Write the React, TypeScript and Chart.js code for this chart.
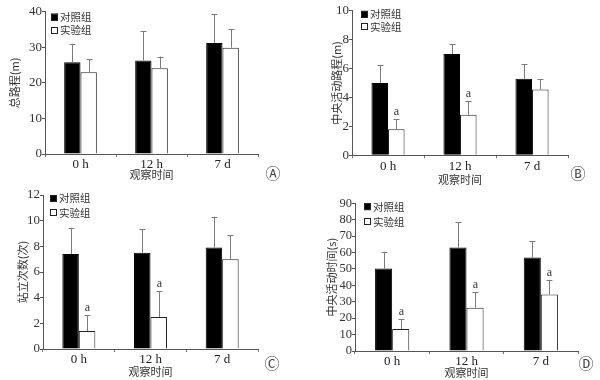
import React, { useEffect, useRef } from "react";
import { Chart, registerables } from "chart.js";
Chart.register(...registerables);

const categories = ["0 h", "12 h", "7 d"];
const seriesNames = ["对照组", "实验组"];
const xTitle = "观察时间";

// Panel A: 总路程(m)
const aControl = [25.8, 26.3, 31.2];
const aControlSD = [5.0, 8.2, 8.1];
const aExp = [23.0, 24.1, 29.9];
const aExpSD = [3.7, 3.3, 5.2];
const aSig = [false, false, false];

// Panel B: 中央活动路程(m)
const bControl = [5.0, 7.0, 5.3];
const bControlSD = [1.25, 0.7, 1.0];
const bExp = [1.8, 2.8, 4.55];
const bExpSD = [0.7, 0.95, 0.7];
const bSig = [true, true, false];

// Panel C: 站立次数(次)
const cControl = [7.4, 7.5, 7.9];
const cControlSD = [2.0, 1.85, 2.4];
const cExp = [1.4, 2.5, 7.0];
const cExpSD = [1.25, 2.0, 1.85];
const cSig = [true, true, false];

// Panel D: 中央活动时间(s)
const dControl = [50.2, 63.0, 56.9];
const dControlSD = [9.9, 15.4, 9.9];
const dExp = [13.4, 26.4, 34.5];
const dExpSD = [5.9, 9.4, 8.8];
const dSig = [true, true, true];

const SERIF = '"Liberation Serif", "DejaVu Serif", serif';
const CJK = '"Noto Sans CJK SC", "Noto Sans", sans-serif';

type Layout = {
  left: number; right: number; top: number; bottom: number;
  yTitleX: number; xTitleY: number;
  legendX: number; legendY1: number; legendY2: number;
  tagX: number; tagY: number; tickSize: number;
};

type PanelDef = {
  yTitle: string; yMax: number; yStep: number; tag: string;
  control: number[]; controlSD: number[]; exp: number[]; expSD: number[]; sig: boolean[];
  layout: Layout; pos: [number, number];
};

const panels: PanelDef[] = [
  {
    yTitle: "总路程(m)", yMax: 40, yStep: 10, tag: "Ⓐ",
    control: aControl, controlSD: aControlSD, exp: aExp, expSD: aExpSD, sig: aSig,
    layout: { left: 45, right: 258, top: 11.7, bottom: 154, yTitleX: 15, xTitleY: 175, legendX: 51, legendY1: 17, legendY2: 30.5, tagX: 273, tagY: 173, tickSize: 13 },
    pos: [0, 0],
  },
  {
    yTitle: "中央活动路程(m)", yMax: 10, yStep: 2, tag: "Ⓑ",
    control: bControl, controlSD: bControlSD, exp: bExp, expSD: bExpSD, sig: bSig,
    layout: { left: 52, right: 268, top: 10.7, bottom: 155.3, yTitleX: 37, xTitleY: 180, legendX: 61, legendY1: 14.3, legendY2: 26.7, tagX: 278, tagY: 173, tickSize: 13 },
    pos: [300, 0],
  },
  {
    yTitle: "站立次数(次)", yMax: 12, yStep: 2, tag: "Ⓒ",
    control: cControl, controlSD: cControlSD, exp: cExp, expSD: cExpSD, sig: cSig,
    layout: { left: 43, right: 258, top: 5, bottom: 159, yTitleX: 23, xTitleY: 181.5, legendX: 50, legendY1: 8.5, legendY2: 22.7, tagX: 272, tagY: 173, tickSize: 13 },
    pos: [0, 190],
  },
  {
    yTitle: "中央活动时间(s)", yMax: 90, yStep: 10, tag: "Ⓓ",
    control: dControl, controlSD: dControlSD, exp: dExp, expSD: dExpSD, sig: dSig,
    layout: { left: 55, right: 278, top: 13.3, bottom: 161, yTitleX: 32, xTitleY: 182.5, legendX: 64, legendY1: 16.7, legendY2: 31.7, tagX: 286, tagY: 173, tickSize: 12.5 },
    pos: [300, 190],
  },
];

const W = 300;
const H = 190;
const TITLE_LH = 13;
const TITLE_SIZE = 11;

const decorPlugin = {
  id: "decor",
  afterDatasetsDraw(chart: any) {
    const ctx = chart.ctx;
    const ys = chart.scales.y;
    chart.data.datasets.forEach((ds: any, i: number) => {
      const meta = chart.getDatasetMeta(i);
      meta.data.forEach((el: any, j: number) => {
        const v = ds.data[j];
        const sd = ds.sd[j];
        const top = ys.getPixelForValue(v + sd);
        const x = Math.round(el.x) + 0.5;
        ctx.save();
        ctx.strokeStyle = "#7a7a7a";
        ctx.lineWidth = 1;
        ctx.beginPath();
        ctx.moveTo(x, el.y);
        ctx.lineTo(x, top);
        ctx.moveTo(x - 3, Math.round(top) + 0.5);
        ctx.lineTo(x + 3, Math.round(top) + 0.5);
        ctx.stroke();
        if (ds.sig && ds.sig[j]) {
          ctx.fillStyle = "#333";
          ctx.font = `12px ${SERIF}`;
          ctx.textAlign = "center";
          ctx.textBaseline = "bottom";
          ctx.fillText("a", x, top - 1);
        }
        ctx.restore();
      });
    });
  },
  afterDraw(chart: any, _args: any, opts: any) {
    const ctx = chart.ctx;
    const L: Layout = opts.layout;
    ctx.save();
    const sq = 7;
    const rows = [
      { y: L.legendY1, fill: "#000", name: chart.data.datasets[0].label },
      { y: L.legendY2, fill: "#fff", name: chart.data.datasets[1].label },
    ];
    rows.forEach((r) => {
      ctx.fillStyle = r.fill;
      ctx.fillRect(L.legendX, r.y - sq / 2, sq, sq);
      ctx.strokeStyle = "#222";
      ctx.lineWidth = 1;
      ctx.strokeRect(Math.round(L.legendX) + 0.5, Math.round(r.y - sq / 2) + 0.5, sq - 1, sq - 1);
      ctx.fillStyle = "#333";
      ctx.font = `10.5px ${CJK}`;
      ctx.textAlign = "left";
      ctx.textBaseline = "middle";
      ctx.fillText(r.name, L.legendX + sq + 2, r.y);
    });
    ctx.fillStyle = "#444";
    ctx.font = `15px ${CJK}`;
    ctx.textAlign = "center";
    ctx.textBaseline = "middle";
    ctx.fillText(opts.tag, L.tagX, L.tagY);
    ctx.restore();
  },
};

function PanelChart({ def }: { def: PanelDef }) {
  const ref = useRef<HTMLCanvasElement | null>(null);
  useEffect(() => {
    if (!ref.current) return;
    const L = def.layout;
    const padLeft = L.yTitleX - TITLE_LH / 2;
    const padBottom = H - L.xTitleY - TITLE_LH / 2;
    const padRight = W - L.right;
    const chart = new Chart(ref.current, {
      type: "bar",
      data: {
        labels: categories,
        datasets: [
          {
            label: seriesNames[0],
            data: def.control,
            sd: def.controlSD,
            sig: [false, false, false],
            backgroundColor: "#000",
            borderColor: "#000",
            borderWidth: 1,
            categoryPercentage: 0.46,
            barPercentage: 1,
          } as any,
          {
            label: seriesNames[1],
            data: def.exp,
            sd: def.expSD,
            sig: def.sig,
            backgroundColor: "#fff",
            borderColor: "#222",
            borderWidth: 1,
            categoryPercentage: 0.46,
            barPercentage: 1,
          } as any,
        ],
      },
      options: {
        responsive: false,
        animation: false,
        devicePixelRatio: 1,
        layout: { padding: { left: padLeft, right: padRight, top: L.top, bottom: padBottom } },
        plugins: {
          legend: { display: false },
          tooltip: { enabled: false },
          decor: { layout: L, tag: def.tag },
        } as any,
        scales: {
          x: {
            grid: { display: true, drawOnChartArea: false, drawTicks: true, tickLength: 3, color: "#777", offset: true },
            border: { display: true, color: "#555", width: 1 },
            ticks: { color: "#222", padding: 0, font: { family: SERIF, size: 13 }, maxRotation: 0, autoSkip: false },
            title: { display: true, text: xTitle, color: "#333", padding: 0, font: { family: CJK, size: TITLE_SIZE, lineHeight: TITLE_LH / TITLE_SIZE } },
            afterFit: (s: any) => {
              s.height = H - padBottom - L.bottom;
              s.paddingLeft = 0;
              s.paddingRight = 0;
            },
          },
          y: {
            min: 0,
            max: def.yMax,
            ticks: { stepSize: def.yStep, autoSkip: false, color: "#333", padding: 0, font: { family: SERIF, size: L.tickSize, lineHeight: 1 } },
            grid: { display: true, drawOnChartArea: false, drawTicks: true, tickLength: 3, color: "#555" },
            border: { display: true, color: "#555", width: 1 },
            title: { display: true, text: def.yTitle, color: "#333", padding: 0, font: { family: CJK, size: TITLE_SIZE, lineHeight: TITLE_LH / TITLE_SIZE } },
            afterFit: (s: any) => {
              s.width = L.left - padLeft;
              s.paddingTop = 0;
              s.paddingBottom = 0;
            },
          },
        },
      } as any,
      plugins: [decorPlugin],
    });
    return () => chart.destroy();
  }, [def]);
  return (
    <div style={{ position: "absolute", left: def.pos[0], top: def.pos[1], width: W, height: H }}>
      <canvas ref={ref} width={W} height={H} style={{ width: W, height: H, display: "block" }} />
    </div>
  );
}

export default function App() {
  return (
    <div style={{ position: "fixed", left: 0, top: 0, width: 600, height: 380, background: "#fff", overflow: "hidden" }}>
      {panels.map((p, i) => (
        <PanelChart key={i} def={p} />
      ))}
    </div>
  );
}
